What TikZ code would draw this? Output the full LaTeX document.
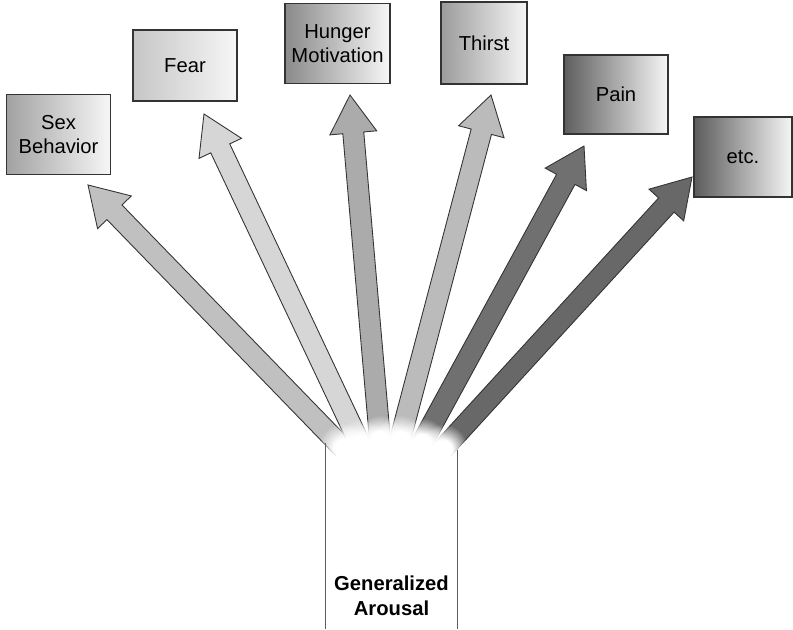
\documentclass[tikz,border=0pt]{standalone}
\usepackage{fontspec}
\setsansfont{Liberation Sans}
\usetikzlibrary{calc, fadings}
\definecolor{cdark}{HTML}{333333}
\definecolor{cwhite}{HTML}{F6F6F6}
\definecolor{csex}{HTML}{C0C0C0}
\definecolor{cfear}{HTML}{D6D6D6}
\definecolor{chunger}{HTML}{ABABAB}
\definecolor{cthirst}{HTML}{BBBBBB}
\definecolor{cpain}{HTML}{707070}
\definecolor{cetc}{HTML}{686868}
\definecolor{lsex}{HTML}{A2A2A2}
\definecolor{lfear}{HTML}{C6C6C6}
\definecolor{lhunger}{HTML}{8A8A8A}
\definecolor{lthirst}{HTML}{9C9C9C}
\definecolor{lpain}{HTML}{5E5E5E}
\definecolor{letc}{HTML}{5C5C5C}
\pgfdeclareradialshading{softshade}{\pgfpointorigin}{color(0bp)=(pgftransparent!0);
  color(9bp)=(pgftransparent!0); color(25bp)=(pgftransparent!100); color(50bp)=(pgftransparent!100)}
\pgfdeclarefading{softdot}{\pgfuseshading{softshade}}
\tikzset{
  every picture/.style={font=\sffamily\fontsize{11.5}{14}\selectfont},
  box/.style={draw=cdark, line width=0.7pt, left color=#1, right color=cwhite,
    align=center, inner sep=2pt},
  arrowline/.style={draw=cdark, line width=0.5pt, line join=miter},
  blur/.style={white, path fading=softdot},
}
% thick outlined arrow: base, tip, fill colour
\newcommand{\fatarrow}[3]{%
  \coordinate (n) at ($(#2)!0.76cm!(#1)$);
  \filldraw[arrowline, fill=#3] ($(#1)!0.21cm!90:(#2)$) -- ($(n)!0.21cm!-90:(#1)$)
    -- ($(n)!0.47cm!-90:(#1)$) -- (#2) -- ($(n)!0.47cm!90:(#1)$)
    -- ($(n)!0.21cm!90:(#1)$) -- ($(#1)!0.21cm!-90:(#2)$) -- cycle;}

\begin{document}
\begin{tikzpicture}[x=0.02cm, y=-0.02cm]
  \useasboundingbox (0,0) rectangle (793,629);
  % target boxes
  \node[box=lsex, minimum width=2.08cm, minimum height=1.6cm] (sex) at (58.5,134.5) {Sex\\Behavior};
  \node[box=lfear, minimum width=2.08cm, minimum height=1.42cm] (fear) at (185,65.5) {Fear};
  \node[box=lhunger, minimum width=2.1cm, minimum height=1.6cm] (hunger) at (337.5,43.5) {Hunger\\Motivation};
  \node[box=lthirst, minimum width=1.72cm, minimum height=1.64cm] (thirst) at (484,43) {Thirst};
  \node[box=lpain, minimum width=2.08cm, minimum height=1.58cm] (pain) at (616,94.5) {Pain};
  \node[box=letc, minimum width=1.96cm, minimum height=1.6cm] (etc) at (743,157) {etc.};
  % generalized arousal
  \node[minimum width=2.62cm, minimum height=3.72cm, inner sep=0pt] (arousal) at (391.5,536) {};
  \node[font=\sffamily\bfseries\fontsize{11.5}{14}\selectfont, align=center] (arousallbl) at (391.5,596) {Generalized\\Arousal};
  % arrows
  \foreach \nm/\bx/\by/\tx/\ty/\col in {sex/343/448/88/185/csex, fear/360/444/204/114/cfear,
      hunger/380/440/350/95/chunger, thirst/400/440/491/95/cthirst,
      pain/422/443/584/146/cpain, etc/443/449/692/177/cetc} {
    \coordinate (b\nm) at (\bx,\by);
    \coordinate (t\nm) at (\tx,\ty);
    \fatarrow{b\nm}{t\nm}{\col}
  }
  \foreach \nm in {sex, fear, hunger, thirst, pain, etc}
    \fill[blur] (b\nm) circle (0.5cm);
  \draw[cdark!80, line width=0.7pt] (arousal.north west) -- (arousal.south west);
  \draw[cdark!80, line width=0.7pt] ([yshift=-4]arousal.north east) -- (arousal.south east);
\end{tikzpicture}
\end{document}
